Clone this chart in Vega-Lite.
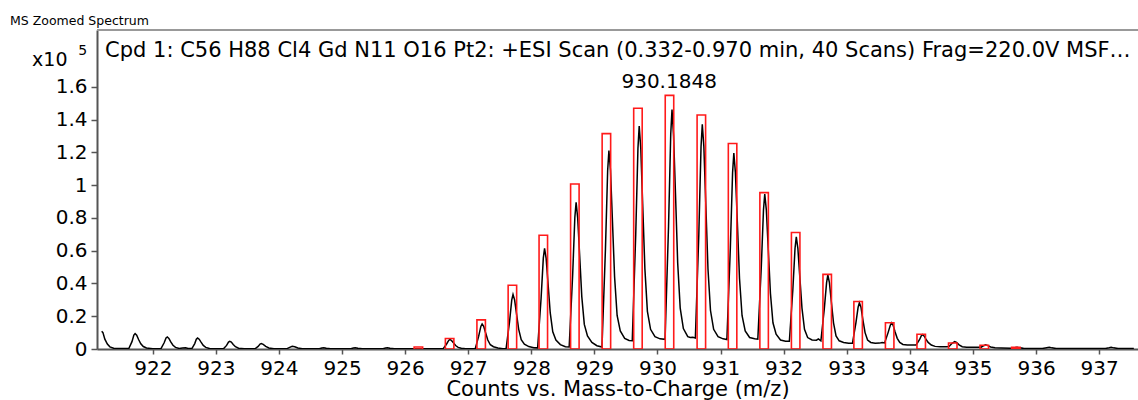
{
  "$schema": "https://vega.github.io/schema/vega-lite/v6.json",
  "autosize": {"type": "none"},
  "padding": {"left": 97, "top": 30, "right": 0, "bottom": 51},
  "width": 1041,
  "height": 319,
  "background": "white",
  "title": {"text": "MS Zoomed Spectrum", "anchor": "start", "frame": "group", "dx": -87, "offset": -8.5, "baseline": "alphabetic", "font": "DejaVu Sans", "fontSize": 12.5, "fontWeight": "normal", "color": "#000"},
  "config": {"view": {"stroke": null}, "font": "DejaVu Sans"},
  "resolve": {"axis": {"x": "independent", "y": "independent"}},
  "datasets": {
    "profile": [
      {"mz": 921.19, "intensity": 0.108}, {"mz": 921.21, "intensity": 0.1}, {"mz": 921.24, "intensity": 0.06}, {"mz": 921.28, "intensity": 0.03}, {"mz": 921.32, "intensity": 0.013}, {"mz": 921.38, "intensity": 0.005}, {"mz": 921.48, "intensity": 0.003},
      {"mz": 921.62, "intensity": 0.003}, {"mz": 921.67, "intensity": 0.045}, {"mz": 921.7, "intensity": 0.085}, {"mz": 921.72, "intensity": 0.094}, {"mz": 921.745, "intensity": 0.085}, {"mz": 921.775, "intensity": 0.058}, {"mz": 921.81, "intensity": 0.032}, {"mz": 921.85, "intensity": 0.015}, {"mz": 921.9, "intensity": 0.006}, {"mz": 922.0, "intensity": 0.002},
      {"mz": 922.13, "intensity": 0.002}, {"mz": 922.18, "intensity": 0.038}, {"mz": 922.21, "intensity": 0.068}, {"mz": 922.23, "intensity": 0.074}, {"mz": 922.255, "intensity": 0.065}, {"mz": 922.285, "intensity": 0.043}, {"mz": 922.32, "intensity": 0.023}, {"mz": 922.36, "intensity": 0.01}, {"mz": 922.42, "intensity": 0.003}, {"mz": 922.47, "intensity": 0.006}, {"mz": 922.52, "intensity": 0.007}, {"mz": 922.56, "intensity": 0.003},
      {"mz": 922.62, "intensity": 0.003}, {"mz": 922.665, "intensity": 0.033}, {"mz": 922.69, "intensity": 0.06}, {"mz": 922.71, "intensity": 0.067}, {"mz": 922.735, "intensity": 0.06}, {"mz": 922.765, "intensity": 0.042}, {"mz": 922.8, "intensity": 0.022}, {"mz": 922.84, "intensity": 0.01}, {"mz": 922.9, "intensity": 0.003}, {"mz": 923.0, "intensity": 0.001},
      {"mz": 923.12, "intensity": 0.001}, {"mz": 923.17, "intensity": 0.022}, {"mz": 923.2, "intensity": 0.042}, {"mz": 923.22, "intensity": 0.047}, {"mz": 923.245, "intensity": 0.042}, {"mz": 923.275, "intensity": 0.028}, {"mz": 923.31, "intensity": 0.014}, {"mz": 923.36, "intensity": 0.005}, {"mz": 923.45, "intensity": 0.001},
      {"mz": 923.62, "intensity": 0.001}, {"mz": 923.67, "intensity": 0.016}, {"mz": 923.7, "intensity": 0.03}, {"mz": 923.72, "intensity": 0.033}, {"mz": 923.75, "intensity": 0.028}, {"mz": 923.79, "intensity": 0.016}, {"mz": 923.84, "intensity": 0.006}, {"mz": 923.92, "intensity": 0.001},
      {"mz": 924.12, "intensity": 0.001}, {"mz": 924.17, "intensity": 0.01}, {"mz": 924.21, "intensity": 0.017}, {"mz": 924.25, "intensity": 0.014}, {"mz": 924.3, "intensity": 0.006}, {"mz": 924.37, "intensity": 0.001},
      {"mz": 924.64, "intensity": 0.001}, {"mz": 924.68, "intensity": 0.006}, {"mz": 924.71, "intensity": 0.008}, {"mz": 924.75, "intensity": 0.004}, {"mz": 924.82, "intensity": 0.001},
      {"mz": 925.14, "intensity": 0.001}, {"mz": 925.18, "intensity": 0.006}, {"mz": 925.21, "intensity": 0.008}, {"mz": 925.25, "intensity": 0.004}, {"mz": 925.32, "intensity": 0.001},
      {"mz": 925.65, "intensity": 0.001}, {"mz": 925.69, "intensity": 0.006}, {"mz": 925.72, "intensity": 0.008}, {"mz": 925.76, "intensity": 0.004}, {"mz": 925.83, "intensity": 0.001},
      {"mz": 926.5, "intensity": 0.001},
      {"mz": 926.6, "intensity": 0.001}, {"mz": 926.655, "intensity": 0.029}, {"mz": 926.69, "intensity": 0.052}, {"mz": 926.71, "intensity": 0.058}, {"mz": 926.735, "intensity": 0.052}, {"mz": 926.765, "intensity": 0.038}, {"mz": 926.8, "intensity": 0.021}, {"mz": 926.84, "intensity": 0.01}, {"mz": 926.89, "intensity": 0.005}, {"mz": 926.96, "intensity": 0.002}, {"mz": 927.05, "intensity": 0.001},
      {"mz": 927.11, "intensity": 0.001}, {"mz": 927.165, "intensity": 0.077}, {"mz": 927.2, "intensity": 0.138}, {"mz": 927.22, "intensity": 0.153}, {"mz": 927.245, "intensity": 0.138}, {"mz": 927.275, "intensity": 0.099}, {"mz": 927.31, "intensity": 0.055}, {"mz": 927.35, "intensity": 0.026}, {"mz": 927.4, "intensity": 0.014}, {"mz": 927.47, "intensity": 0.006}, {"mz": 927.55, "intensity": 0.002},
      {"mz": 927.6, "intensity": 0.002}, {"mz": 927.655, "intensity": 0.167}, {"mz": 927.69, "intensity": 0.3}, {"mz": 927.71, "intensity": 0.333}, {"mz": 927.735, "intensity": 0.3}, {"mz": 927.765, "intensity": 0.216}, {"mz": 927.8, "intensity": 0.12}, {"mz": 927.84, "intensity": 0.057}, {"mz": 927.89, "intensity": 0.03}, {"mz": 927.96, "intensity": 0.015}, {"mz": 928.04, "intensity": 0.008},
      {"mz": 928.1, "intensity": 0.007}, {"mz": 928.155, "intensity": 0.31}, {"mz": 928.19, "intensity": 0.555}, {"mz": 928.21, "intensity": 0.615}, {"mz": 928.235, "intensity": 0.553}, {"mz": 928.265, "intensity": 0.4}, {"mz": 928.3, "intensity": 0.22}, {"mz": 928.34, "intensity": 0.105}, {"mz": 928.39, "intensity": 0.055}, {"mz": 928.46, "intensity": 0.027}, {"mz": 928.54, "intensity": 0.014},
      {"mz": 928.6, "intensity": 0.012}, {"mz": 928.655, "intensity": 0.45}, {"mz": 928.69, "intensity": 0.805}, {"mz": 928.71, "intensity": 0.895}, {"mz": 928.735, "intensity": 0.8}, {"mz": 928.765, "intensity": 0.58}, {"mz": 928.8, "intensity": 0.32}, {"mz": 928.84, "intensity": 0.15}, {"mz": 928.89, "intensity": 0.08}, {"mz": 928.96, "intensity": 0.04}, {"mz": 929.04, "intensity": 0.02},
      {"mz": 929.12, "intensity": 0.012}, {"mz": 929.175, "intensity": 0.61}, {"mz": 929.21, "intensity": 1.09}, {"mz": 929.23, "intensity": 1.212}, {"mz": 929.255, "intensity": 1.09}, {"mz": 929.285, "intensity": 0.79}, {"mz": 929.32, "intensity": 0.44}, {"mz": 929.36, "intensity": 0.205}, {"mz": 929.41, "intensity": 0.11}, {"mz": 929.48, "intensity": 0.065}, {"mz": 929.55, "intensity": 0.052},
      {"mz": 929.6, "intensity": 0.051}, {"mz": 929.655, "intensity": 0.7}, {"mz": 929.69, "intensity": 1.225}, {"mz": 929.71, "intensity": 1.361}, {"mz": 929.735, "intensity": 1.225}, {"mz": 929.765, "intensity": 0.885}, {"mz": 929.8, "intensity": 0.49}, {"mz": 929.84, "intensity": 0.23}, {"mz": 929.89, "intensity": 0.12}, {"mz": 929.96, "intensity": 0.075}, {"mz": 930.04, "intensity": 0.062},
      {"mz": 930.12, "intensity": 0.059}, {"mz": 930.175, "intensity": 0.75}, {"mz": 930.21, "intensity": 1.315}, {"mz": 930.23, "intensity": 1.462}, {"mz": 930.255, "intensity": 1.3}, {"mz": 930.285, "intensity": 0.95}, {"mz": 930.32, "intensity": 0.525}, {"mz": 930.36, "intensity": 0.25}, {"mz": 930.41, "intensity": 0.125}, {"mz": 930.48, "intensity": 0.075}, {"mz": 930.52, "intensity": 0.07}, {"mz": 930.56, "intensity": 0.072},
      {"mz": 930.6, "intensity": 0.067}, {"mz": 930.655, "intensity": 0.7}, {"mz": 930.69, "intensity": 1.235}, {"mz": 930.71, "intensity": 1.372}, {"mz": 930.735, "intensity": 1.235}, {"mz": 930.765, "intensity": 0.89}, {"mz": 930.8, "intensity": 0.49}, {"mz": 930.84, "intensity": 0.235}, {"mz": 930.89, "intensity": 0.12}, {"mz": 930.96, "intensity": 0.075}, {"mz": 931.04, "intensity": 0.062},
      {"mz": 931.1, "intensity": 0.058}, {"mz": 931.155, "intensity": 0.62}, {"mz": 931.19, "intensity": 1.076}, {"mz": 931.21, "intensity": 1.196}, {"mz": 931.235, "intensity": 1.076}, {"mz": 931.265, "intensity": 0.78}, {"mz": 931.3, "intensity": 0.43}, {"mz": 931.34, "intensity": 0.205}, {"mz": 931.39, "intensity": 0.11}, {"mz": 931.46, "intensity": 0.07}, {"mz": 931.54, "intensity": 0.062},
      {"mz": 931.59, "intensity": 0.06}, {"mz": 931.645, "intensity": 0.5}, {"mz": 931.68, "intensity": 0.85}, {"mz": 931.7, "intensity": 0.946}, {"mz": 931.725, "intensity": 0.85}, {"mz": 931.755, "intensity": 0.615}, {"mz": 931.79, "intensity": 0.34}, {"mz": 931.83, "intensity": 0.16}, {"mz": 931.88, "intensity": 0.09}, {"mz": 931.95, "intensity": 0.055}, {"mz": 932.03, "intensity": 0.048},
      {"mz": 932.09, "intensity": 0.047}, {"mz": 932.145, "intensity": 0.36}, {"mz": 932.18, "intensity": 0.615}, {"mz": 932.2, "intensity": 0.685}, {"mz": 932.225, "intensity": 0.615}, {"mz": 932.255, "intensity": 0.445}, {"mz": 932.29, "intensity": 0.25}, {"mz": 932.33, "intensity": 0.12}, {"mz": 932.38, "intensity": 0.07}, {"mz": 932.45, "intensity": 0.055}, {"mz": 932.52, "intensity": 0.054}, {"mz": 932.55, "intensity": 0.062},
      {"mz": 932.59, "intensity": 0.05}, {"mz": 932.645, "intensity": 0.25}, {"mz": 932.68, "intensity": 0.405}, {"mz": 932.7, "intensity": 0.452}, {"mz": 932.725, "intensity": 0.405}, {"mz": 932.755, "intensity": 0.29}, {"mz": 932.79, "intensity": 0.16}, {"mz": 932.83, "intensity": 0.08}, {"mz": 932.88, "intensity": 0.05}, {"mz": 932.95, "intensity": 0.04}, {"mz": 933.03, "intensity": 0.035},
      {"mz": 933.09, "intensity": 0.035}, {"mz": 933.145, "intensity": 0.16}, {"mz": 933.18, "intensity": 0.255}, {"mz": 933.2, "intensity": 0.282}, {"mz": 933.225, "intensity": 0.255}, {"mz": 933.255, "intensity": 0.18}, {"mz": 933.29, "intensity": 0.1}, {"mz": 933.33, "intensity": 0.055}, {"mz": 933.38, "intensity": 0.04}, {"mz": 933.45, "intensity": 0.035}, {"mz": 933.52, "intensity": 0.036}, {"mz": 933.56, "intensity": 0.04},
      {"mz": 933.6, "intensity": 0.037}, {"mz": 933.655, "intensity": 0.1}, {"mz": 933.69, "intensity": 0.145}, {"mz": 933.71, "intensity": 0.16}, {"mz": 933.735, "intensity": 0.145}, {"mz": 933.765, "intensity": 0.105}, {"mz": 933.8, "intensity": 0.065}, {"mz": 933.84, "intensity": 0.04}, {"mz": 933.89, "intensity": 0.028}, {"mz": 933.96, "intensity": 0.025}, {"mz": 934.04, "intensity": 0.025},
      {"mz": 934.1, "intensity": 0.025}, {"mz": 934.155, "intensity": 0.058}, {"mz": 934.18, "intensity": 0.08}, {"mz": 934.2, "intensity": 0.088}, {"mz": 934.225, "intensity": 0.08}, {"mz": 934.255, "intensity": 0.06}, {"mz": 934.29, "intensity": 0.04}, {"mz": 934.34, "intensity": 0.024}, {"mz": 934.4, "intensity": 0.016}, {"mz": 934.48, "intensity": 0.014}, {"mz": 934.58, "intensity": 0.014},
      {"mz": 934.62, "intensity": 0.015}, {"mz": 934.67, "intensity": 0.035}, {"mz": 934.71, "intensity": 0.045}, {"mz": 934.74, "intensity": 0.04}, {"mz": 934.78, "intensity": 0.025}, {"mz": 934.83, "intensity": 0.014}, {"mz": 934.9, "intensity": 0.01}, {"mz": 935.0, "intensity": 0.01}, {"mz": 935.1, "intensity": 0.01},
      {"mz": 935.13, "intensity": 0.011}, {"mz": 935.17, "intensity": 0.02}, {"mz": 935.2, "intensity": 0.025}, {"mz": 935.23, "intensity": 0.022}, {"mz": 935.28, "intensity": 0.012}, {"mz": 935.35, "intensity": 0.007}, {"mz": 935.45, "intensity": 0.006}, {"mz": 935.6, "intensity": 0.005},
      {"mz": 935.67, "intensity": 0.009}, {"mz": 935.7, "intensity": 0.011}, {"mz": 935.74, "intensity": 0.007}, {"mz": 935.8, "intensity": 0.004}, {"mz": 936.1, "intensity": 0.003},
      {"mz": 936.17, "intensity": 0.008}, {"mz": 936.21, "intensity": 0.011}, {"mz": 936.25, "intensity": 0.007}, {"mz": 936.32, "intensity": 0.003}, {"mz": 937.1, "intensity": 0.003},
      {"mz": 937.16, "intensity": 0.008}, {"mz": 937.19, "intensity": 0.011}, {"mz": 937.23, "intensity": 0.007}, {"mz": 937.3, "intensity": 0.003}, {"mz": 937.55, "intensity": 0.003}
    ],
    "theory": [
      {"mz": 926.21, "abundance": 0.012}, {"mz": 926.705, "abundance": 0.064}, {"mz": 927.205, "abundance": 0.178}, {"mz": 927.7, "abundance": 0.389},
      {"mz": 928.19, "abundance": 0.695}, {"mz": 928.69, "abundance": 1.008}, {"mz": 929.19, "abundance": 1.315}, {"mz": 929.69, "abundance": 1.47},
      {"mz": 930.19, "abundance": 1.549}, {"mz": 930.695, "abundance": 1.429}, {"mz": 931.19, "abundance": 1.255}, {"mz": 931.69, "abundance": 0.955},
      {"mz": 932.19, "abundance": 0.711}, {"mz": 932.69, "abundance": 0.456}, {"mz": 933.18, "abundance": 0.29}, {"mz": 933.68, "abundance": 0.16},
      {"mz": 934.18, "abundance": 0.09}, {"mz": 934.68, "abundance": 0.037}, {"mz": 935.18, "abundance": 0.023}, {"mz": 935.68, "abundance": 0.01}
    ]
  },
  "layer": [
    {
      "data": {"name": "profile"},
      "mark": {"type": "line", "color": "#000000", "strokeWidth": 1.5, "clip": true, "interpolate": "linear"},
      "encoding": {
        "x": {"field": "mz", "type": "quantitative",
          "scale": {"domain": [921.195, 937.537], "nice": false, "zero": false},
          "axis": {"values": [922, 923, 924, 925, 926, 927, 928, 929, 930, 931, 932, 933, 934, 935, 936, 937], "format": "d", "grid": false,
            "domainColor": "#555555", "domainWidth": 2, "tickColor": "#555555", "tickWidth": 1.5, "tickSize": 5,
            "labelFont": "DejaVu Sans", "labelFontSize": 20, "labelColor": "#000000", "labelPadding": 4, "labelFlush": false, "labelOverlap": false,
            "title": "Counts vs. Mass-to-Charge (m/z)", "titleFont": "DejaVu Sans", "titleFontSize": 21, "titleFontWeight": "normal", "titleColor": "#000000", "titlePadding": 0}},
        "y": {"field": "intensity", "type": "quantitative",
          "scale": {"domain": [0, 1.948], "nice": false, "zero": true},
          "axis": {"values": [0, 0.2, 0.4, 0.6, 0.8, 1, 1.2, 1.4, 1.6], "format": "~g", "grid": false,
            "domainColor": "#555555", "domainWidth": 2, "tickColor": "#555555", "tickWidth": 1.5, "tickSize": 6,
            "labelFont": "DejaVu Sans", "labelFontSize": 20, "labelColor": "#000000", "labelPadding": 4, "labelFlush": false, "labelOverlap": false,
            "title": "x10", "titleFont": "DejaVu Sans", "titleFontSize": 19, "titleFontWeight": "normal", "titleColor": "#000000",
            "titleAngle": 0, "titleAlign": "right", "titleBaseline": "alphabetic", "titleX": -30, "titleY": 35}}
      }
    },
    {
      "data": {"values": [{"note": "frame"}]},
      "mark": {"type": "rule", "color": "#999999", "strokeWidth": 2},
      "encoding": {"y": {"datum": 1.948, "type": "quantitative", "axis": null}}
    },
    {
      "data": {"name": "theory"},
      "mark": {"type": "bar", "width": 8.5, "fill": "transparent", "stroke": "#ff1a1a", "strokeWidth": 1.6, "clip": true},
      "encoding": {
        "x": {"field": "mz", "type": "quantitative", "axis": null},
        "y": {"field": "abundance", "type": "quantitative", "axis": null}
      }
    },
    {
      "data": {"values": [{"mz": 930.1848, "label": "930.1848"}]},
      "mark": {"type": "text", "font": "DejaVu Sans", "fontSize": 20, "baseline": "alphabetic", "align": "center", "color": "#000000"},
      "encoding": {
        "x": {"field": "mz", "type": "quantitative", "axis": null},
        "y": {"datum": 1.594, "type": "quantitative", "axis": null},
        "text": {"field": "label"}
      }
    },
    {
      "data": {"values": [{"mz": 921.243, "label": "Cpd 1: C56 H88 Cl4 Gd N11 O16 Pt2: +ESI Scan (0.332-0.970 min, 40 Scans) Frag=220.0V MSF…"}]},
      "mark": {"type": "text", "font": "DejaVu Sans", "fontSize": 21, "baseline": "alphabetic", "align": "left", "color": "#000000"},
      "encoding": {
        "x": {"field": "mz", "type": "quantitative", "axis": null},
        "y": {"datum": 1.785, "type": "quantitative", "axis": null},
        "text": {"field": "label"}
      }
    },
    {
      "data": {"values": [{"mz": 920.818, "label": "5"}]},
      "mark": {"type": "text", "font": "DejaVu Sans", "fontSize": 14, "baseline": "alphabetic", "align": "left", "color": "#000000"},
      "encoding": {
        "x": {"field": "mz", "type": "quantitative", "axis": null},
        "y": {"datum": 1.795, "type": "quantitative", "axis": null},
        "text": {"field": "label"}
      }
    }
  ]
}
